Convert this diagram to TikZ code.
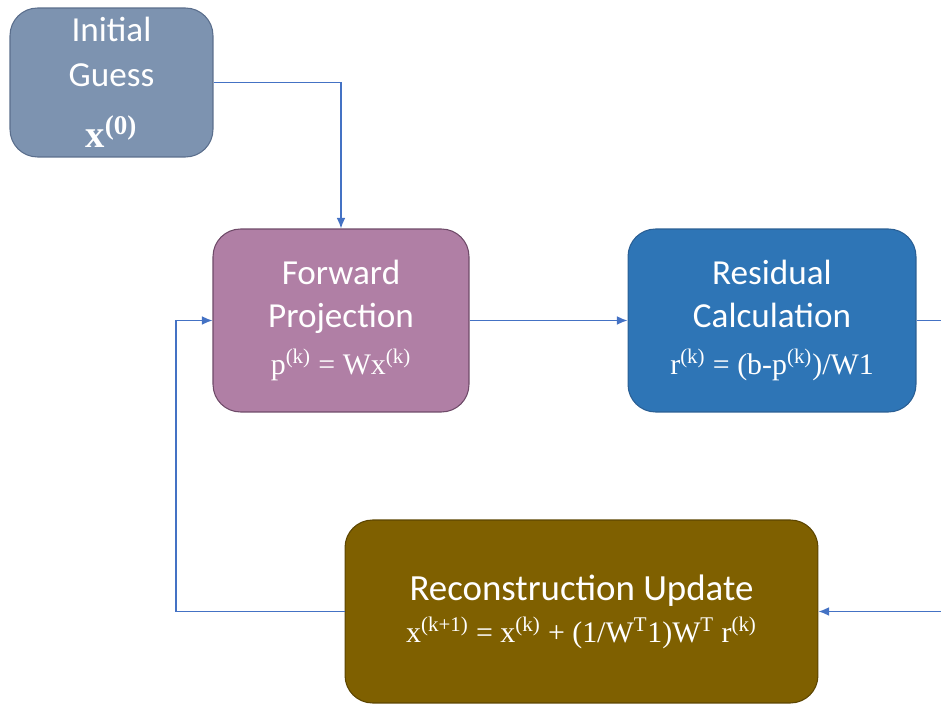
\documentclass[tikz,border=0pt]{standalone}
\usepackage{fontspec}
\setmainfont{Carlito}
\newfontfamily\formfont{Liberation Serif}
\usetikzlibrary{arrows.meta}

\definecolor{guessfill}{HTML}{7D93B0}
\definecolor{guessline}{HTML}{5A6E8C}
\definecolor{fwdfill}{HTML}{B07FA5}
\definecolor{fwdline}{HTML}{6E4A68}
\definecolor{resfill}{HTML}{2E75B6}
\definecolor{resline}{HTML}{2A5F94}
\definecolor{updfill}{HTML}{7F6000}
\definecolor{updline}{HTML}{5C4500}
\definecolor{linkblue}{HTML}{4472C4}

\begin{document}
\begin{tikzpicture}[x=0.02cm,y=-0.02cm,
	box/.style={draw,line width=0.6pt,rounded corners=0.55cm,align=center,text=white,inner sep=0pt},
	link/.style={draw=linkblue,line width=0.8pt,-{Latex[length=6pt,width=5pt]}}]
	\useasboundingbox (0,0) rectangle (941,705);
	\clip (0,0) rectangle (941,705);

	\node[box,fill=guessfill,draw=guessline,minimum width=4.06cm,minimum height=2.98cm,
		font=\fontsize{20}{25.5}\selectfont] (guess) at (111.5,82.5)
		{Initial\\Guess\\[9pt]{\formfont\bfseries\fontsize{22}{22}\selectfont x\textsuperscript{(0)}}};

	\node[box,fill=fwdfill,draw=fwdline,minimum width=5.12cm,minimum height=3.66cm,
		font=\fontsize{20}{24.5}\selectfont] (fwd) at (341,320.5)
		{Forward\\Projection\\[2pt]{\formfont\fontsize{17}{18}\selectfont p\textsuperscript{(k)} = Wx\textsuperscript{(k)}}};

	\node[box,fill=resfill,draw=resline,minimum width=5.76cm,minimum height=3.66cm,
		font=\fontsize{20}{24.5}\selectfont] (res) at (772,320.5)
		{Residual\\Calculation\\[2pt]{\formfont\fontsize{17}{18}\selectfont r\textsuperscript{(k)} = (b-p\textsuperscript{(k)})/W1}};

	\node[box,fill=updfill,draw=updline,minimum width=9.46cm,minimum height=3.66cm,
		font=\fontsize{21}{22}\selectfont] (upd) at (581.5,611.5)
		{Reconstruction Update\\[2pt]{\formfont\fontsize{17}{19}\selectfont x\textsuperscript{(k+1)} = x\textsuperscript{(k)} + (1/W\textsuperscript{T}1)W\textsuperscript{T} r\textsuperscript{(k)}}};

	% loop connectors
	\coordinate (rturn) at (946,320.5);
	\coordinate (lturn) at (176,611.5);
	\draw[link] (guess.east) -| (fwd.north);
	\draw[link] (fwd.east) -- (res.west);
	\draw[link] (res.east) -- (rturn) |- (upd.east);
	\draw[link] (upd.west) -- (lturn) |- (fwd.west);
\end{tikzpicture}
\end{document}
